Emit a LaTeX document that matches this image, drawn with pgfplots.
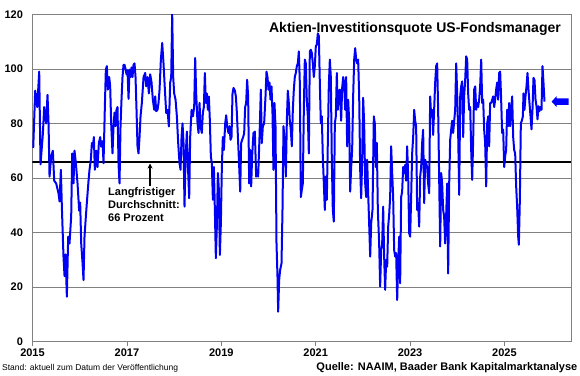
\documentclass[border=0pt]{standalone}
\usepackage{pgfplots}
\pgfplotsset{compat=1.18}
\usepackage{fontspec}
\setmainfont{Liberation Sans}
\usetikzlibrary{arrows.meta}
\definecolor{linecol}{RGB}{0,0,245}
\definecolor{gridcol}{RGB}{128,128,128}
\pgfplotstableread{
x y
2015.015 71
2015.057 92
2015.100 86
2015.142 99
2015.170 65
2015.219 76
2015.248 86
2015.290 80
2015.318 90.5
2015.340 80
2015.361 60.5
2015.396 68
2015.431 70
2015.460 59
2015.502 58
2015.551 54.4
2015.573 51.4
2015.601 63
2015.622 49.5
2015.657 31
2015.679 24
2015.700 32
2015.728 16.5
2015.756 38.5
2015.784 36
2015.820 46
2015.841 69
2015.869 58
2015.890 70
2015.919 65.4
2015.954 58
2015.989 48
2016.010 51
2016.032 36
2016.060 29
2016.081 22.6
2016.102 38.5
2016.131 46
2016.152 51
2016.187 59
2016.208 63
2016.236 66.7
2016.258 72.8
2016.279 71.5
2016.300 75
2016.321 63
2016.350 70
2016.378 64
2016.406 72.8
2016.434 75
2016.455 71.5
2016.484 73.5
2016.505 65.4
2016.533 86
2016.554 99.7
2016.575 101
2016.597 92.4
2016.625 97
2016.646 93.6
2016.667 80
2016.695 69
2016.717 79
2016.738 84
2016.759 79
2016.780 85
2016.801 86
2016.823 65
2016.844 58
2016.865 79
2016.886 88.7
2016.907 97
2016.929 101.5
2016.950 101.5
2016.971 100
2016.992 98
2017.013 99.5
2017.035 89
2017.056 99.7
2017.077 97
2017.098 100.5
2017.119 97
2017.141 101.5
2017.162 102
2017.183 97
2017.204 85
2017.225 71.6
2017.246 69
2017.268 75
2017.289 82.6
2017.317 87.5
2017.353 97
2017.388 98.5
2017.409 93.6
2017.437 97
2017.466 91
2017.494 98
2017.522 95
2017.550 88.7
2017.579 85
2017.600 89.9
2017.621 84.5
2017.649 85
2017.670 87.5
2017.692 92.4
2017.720 103.4
2017.748 109.5
2017.776 102
2017.805 92.4
2017.833 83.8
2017.861 85
2017.889 78.9
2017.918 95
2017.939 97
2017.960 120
2017.981 97
2018.002 91
2018.031 88.7
2018.059 82.6
2018.087 72.8
2018.115 65.4
2018.137 63
2018.158 75
2018.179 80
2018.200 72.8
2018.221 49.5
2018.242 66.7
2018.271 77
2018.292 65
2018.320 52.6
2018.341 75
2018.370 85
2018.398 82.6
2018.426 86
2018.447 104
2018.468 91
2018.497 80
2018.518 76.5
2018.539 87.5
2018.560 78.9
2018.588 76.5
2018.610 84
2018.631 86
2018.652 98.5
2018.673 87.5
2018.694 91
2018.716 85
2018.737 89.9
2018.758 81
2018.779 67.9
2018.800 65.4
2018.822 52
2018.843 64
2018.864 48.3
2018.885 30.6
2018.906 42.2
2018.928 61.8
2018.949 55.7
2018.970 31.8
2018.991 43.4
2019.012 64
2019.033 75
2019.055 70.3
2019.083 80
2019.104 83
2019.125 78.9
2019.153 76.5
2019.175 79
2019.196 74
2019.217 75
2019.238 91
2019.259 93
2019.288 92
2019.309 89.9
2019.330 84
2019.358 72.8
2019.380 64
2019.401 55
2019.421 72.8
2019.442 74
2019.464 75
2019.485 76.5
2019.506 86
2019.527 87.5
2019.548 96
2019.569 89.9
2019.591 58
2019.612 70.3
2019.633 56.9
2019.654 68
2019.682 76.5
2019.711 77
2019.739 60.5
2019.760 63
2019.781 60.5
2019.810 75
2019.838 92.4
2019.859 72.8
2019.880 78.9
2019.908 80
2019.937 89.9
2019.958 99
2019.979 97
2020.000 92.4
2020.021 95
2020.043 88.7
2020.064 93.6
2020.085 83.8
2020.106 63
2020.127 87.5
2020.149 79
2020.170 36
2020.191 23.9
2020.205 11
2020.226 22.6
2020.247 26.3
2020.276 28.7
2020.297 48.3
2020.318 79
2020.346 72.8
2020.368 60.5
2020.389 81
2020.410 92
2020.431 87.5
2020.452 81
2020.473 77.7
2020.495 71.6
2020.516 85
2020.537 92.4
2020.558 97
2020.579 98.5
2020.601 101
2020.622 102
2020.643 106.4
2020.664 95
2020.685 53
2020.707 55.7
2020.728 58
2020.749 85
2020.770 103.4
2020.791 102
2020.812 88.7
2020.834 82.6
2020.855 69
2020.876 106.4
2020.897 107
2020.918 105.8
2020.940 102
2020.961 97
2020.982 101
2021.003 108.3
2021.024 108.9
2021.046 113
2021.067 112
2021.088 95
2021.109 80
2021.130 82.6
2021.151 68
2021.173 58
2021.194 48.3
2021.215 60.5
2021.236 52
2021.257 72.8
2021.278 93.6
2021.300 103.4
2021.321 97
2021.342 66.7
2021.363 48.3
2021.384 44
2021.406 80
2021.427 82.6
2021.448 98.5
2021.469 85
2021.490 91
2021.512 92.4
2021.540 81
2021.561 93
2021.583 97
2021.604 95
2021.625 85
2021.646 97
2021.667 71.6
2021.688 88.7
2021.710 81
2021.731 55
2021.752 64
2021.773 70.3
2021.794 89.9
2021.816 103.4
2021.837 107.6
2021.858 103.4
2021.879 102
2021.900 103.4
2021.922 89.9
2021.943 63
2021.964 52.6
2021.985 66.7
2022.006 89.4
2022.027 80
2022.049 58
2022.070 53
2022.091 66.7
2022.112 54.4
2022.133 43.4
2022.155 31.2
2022.176 43.4
2022.204 48.3
2022.232 82.6
2022.253 80
2022.275 64
2022.296 72.8
2022.317 48.3
2022.345 36
2022.366 20.2
2022.388 33.6
2022.409 36
2022.430 49.5
2022.451 31.2
2022.472 19
2022.494 30
2022.515 27.5
2022.536 42.2
2022.557 46.5
2022.578 53
2022.599 71.6
2022.621 61.8
2022.642 53
2022.663 33.6
2022.684 31.2
2022.705 32.5
2022.727 15.3
2022.748 28.7
2022.769 38.5
2022.790 21.4
2022.811 53
2022.832 55
2022.854 64
2022.875 61.8
2022.896 64.8
2022.917 59
2022.938 71.6
2022.960 60.5
2022.981 39.8
2023.002 38.5
2023.023 53
2023.044 69
2023.066 75
2023.087 85
2023.108 81
2023.129 78.9
2023.150 48.3
2023.171 50.8
2023.193 42.2
2023.214 60.5
2023.235 64
2023.256 72.8
2023.277 77.7
2023.299 50.8
2023.320 66.7
2023.341 65.4
2023.362 64
2023.383 58
2023.405 54.4
2023.426 89.9
2023.447 82.6
2023.468 85
2023.489 75.8
2023.510 85
2023.532 95
2023.553 101
2023.574 102
2023.595 85
2023.616 60.5
2023.638 34.9
2023.659 61.8
2023.680 58
2023.701 48.3
2023.722 45.9
2023.743 36
2023.764 45.9
2023.786 58
2023.807 25
2023.829 58
2023.850 74
2023.871 77.7
2023.892 81
2023.913 76.5
2023.935 81
2023.956 85
2023.977 102
2023.998 91
2024.019 76.5
2024.041 53.8
2024.062 89.9
2024.083 93.6
2024.104 95.4
2024.125 75
2024.146 89.9
2024.168 96
2024.189 104.6
2024.210 103.4
2024.231 91
2024.252 85
2024.274 86
2024.295 70.3
2024.316 59.3
2024.337 74
2024.358 92.4
2024.380 93.6
2024.401 85
2024.422 87.5
2024.443 86
2024.464 88.7
2024.485 93.6
2024.507 103.4
2024.528 87.5
2024.549 88.7
2024.570 77.7
2024.591 72.8
2024.613 56.9
2024.634 80
2024.655 82.6
2024.676 71.6
2024.697 87.5
2024.719 87.5
2024.740 88.7
2024.761 89.9
2024.782 86
2024.803 88.7
2024.824 92.4
2024.846 95
2024.867 88.7
2024.888 98.5
2024.909 99
2024.930 88.7
2024.951 76.5
2024.973 77.7
2024.994 64
2025.015 68
2025.036 70.3
2025.057 85
2025.079 79
2025.100 87.5
2025.121 79
2025.142 85
2025.163 89.9
2025.185 75
2025.206 70.3
2025.227 69
2025.248 56.9
2025.269 49.5
2025.291 38.5
2025.305 35.5
2025.326 52
2025.347 80
2025.368 81
2025.390 82.6
2025.403 91
2025.424 85
2025.446 90
2025.467 93.6
2025.488 98.5
2025.509 92.4
2025.530 87.5
2025.552 82.7
2025.573 77.8
2025.594 85
2025.615 96.7
2025.636 96
2025.658 88.8
2025.679 86.3
2025.700 81.5
2025.721 86.3
2025.742 84.5
2025.764 86
2025.785 85
2025.806 101
2025.827 94.9
2025.848 88
}\naaim
\begin{document}
\begin{tikzpicture}
\begin{axis}[
  at={(0pt,0pt)}, anchor=south west,
  scale only axis, width=538.5pt, height=327.4pt,
  xmin=2015, xmax=2026.41, ymin=0, ymax=120,
  xtick={2015,2017,2019,2021,2023,2025},
  xticklabels={2015,2017,2019,2021,2023,2025},
  ytick={0,20,40,60,80,100,120},
  ymajorgrids,
  major grid style={draw=gridcol, line width=0.6pt},
  axis line style={draw=gridcol, line width=0.6pt},
  xtick pos=bottom, ytick pos=left,
  xtick style={draw=gridcol, line width=0.6pt},
  ytick style={draw=none},
  tick align=outside, major tick length=4pt,
  /pgf/number format/assume math mode=true,
  tick label style={font=\bfseries\fontsize{11}{13}\selectfont},
  yticklabel style={xshift=-2pt},
]
\addplot[black, line width=1.8pt, mark=none] coordinates {(2015,66) (2026.41,66)};
\addplot[linecol, line width=2pt, line join=round, mark=none] table[x=x,y=y] {\naaim};
\coordinate (arrA) at (axis cs:2017.49,57);
\coordinate (arrB) at (axis cs:2017.49,65.3);
\coordinate (txt) at (axis cs:2016.6,56.5);
\coordinate (tip) at (axis cs:2026.0,88);
\end{axis}
\draw[black, line width=1.5pt, -{Stealth[length=5pt,width=5pt]}] (arrA) -- (arrB);
\node[anchor=north west, align=left, inner sep=0pt, font=\bfseries\fontsize{11}{13}\selectfont]
  at (txt) {Langfristiger\\Durchschnitt:\\66 Prozent};
\fill[blue] (tip) -- ++(5pt,5.5pt) -- ++(0pt,-2.2pt) -- ++(12pt,0pt) -- ++(0pt,-6.6pt) -- ++(-12pt,0pt) -- ++(0pt,-2.2pt) -- cycle;
\node[anchor=east, inner sep=0pt, font=\bfseries\fontsize{14}{16}\selectfont] at (528.5pt,312.7pt) {Aktien-Investitionsquote US-Fondsmanager};
\node[anchor=west, inner sep=0pt, font=\fontsize{8.5}{10}\selectfont] at (-30.5pt,-26.5pt) {Stand: aktuell zum Datum der Veröffentlichung};
\node[anchor=east, inner sep=0pt, font=\bfseries\fontsize{11}{13}\selectfont] at (545pt,-25.5pt) {Quelle: NAAIM, Baader Bank Kapitalmarktanalyse};
\pgfresetboundingbox
\path[use as bounding box] (-32.5pt,-33.3pt) rectangle (547.5pt,341.7pt);
\end{tikzpicture}
\end{document}
